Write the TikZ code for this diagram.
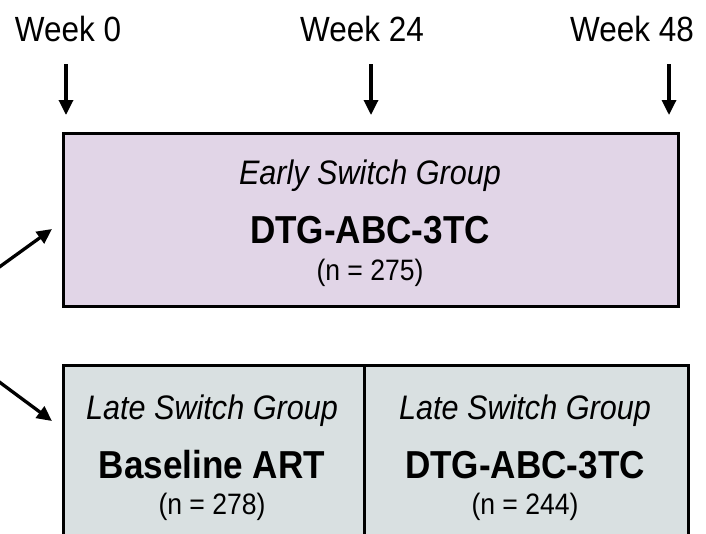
\documentclass[tikz,border=0pt]{standalone}
\usepackage{fontspec}
\setmainfont{Liberation Sans}[FakeStretch=0.9]
\usetikzlibrary{arrows.meta}
\definecolor{earlyfill}{HTML}{E1D5E7}
\definecolor{latefill}{HTML}{D9E0E1}
\begin{document}
\begin{tikzpicture}[x=1pt,y=-1pt,
  weeklbl/.style={font=\fontsize{35}{42}\selectfont, anchor=base, inner sep=0pt},
  grplbl/.style={font=\fontsize{34}{40}\selectfont\itshape, anchor=base, inner sep=0pt},
  druglbl/.style={font=\fontsize{39}{46}\selectfont\bfseries, anchor=base, inner sep=0pt},
  countlbl/.style={font=\fontsize{29.5}{35}\selectfont, anchor=base, inner sep=0pt},
  arr/.style={line width=3.3pt, -{Triangle[length=15pt,width=14pt]}},
  groupbox/.style={draw=black, line width=2.6pt, anchor=north west, inner sep=0pt}]
\clip (0,0) rectangle (706,533);
\fill[white] (0,0) rectangle (706,533);
% week labels
\node[weeklbl] (w0) at (68,41) {Week 0};
\node[weeklbl] (w24) at (362,41) {Week 24};
\node[weeklbl] (w48) at (632,41) {Week 48};
\coordinate (w0s) at (66,64);  \coordinate (w0e) at (66,115);
\coordinate (w24s) at (371,64); \coordinate (w24e) at (371,115);
\coordinate (w48s) at (669,64); \coordinate (w48e) at (669,115);
\draw[arr] (w0s) -- (w0e);
\draw[arr] (w24s) -- (w24e);
\draw[arr] (w48s) -- (w48e);
% boxes
\node[groupbox, fill=earlyfill, minimum width=615pt, minimum height=173pt] (early) at (62,132) {};
\node[groupbox, fill=latefill, minimum width=301pt, minimum height=200pt] (lateA) at (62,364) {};
\node[groupbox, fill=latefill, minimum width=324pt, minimum height=200pt] (lateB) at (363,364) {};
% texts top
\node[grplbl] (eg) at (370,184) {Early Switch Group};
\node[druglbl] (ed) at (370,243) {DTG-ABC-3TC};
\node[countlbl] (en) at (370,280) {(n = 275)};
% texts bottom
\node[grplbl] (lga) at (212,419) {Late Switch Group};
\node[druglbl] (lda) at (212,478) {Baseline ART};
\node[countlbl] (lna) at (212,514) {(n = 278)};
\node[grplbl] (lgb) at (525,419) {Late Switch Group};
\node[druglbl] (ldb) at (525,478) {DTG-ABC-3TC};
\node[countlbl] (lnb) at (525,514) {(n = 244)};
% left arrows
\coordinate (ls1) at (-2,268); \coordinate (le1) at (52,229);
\coordinate (ls2) at (-2,381); \coordinate (le2) at (52,421);
\draw[arr] (ls1) -- (le1);
\draw[arr] (ls2) -- (le2);
\end{tikzpicture}
\end{document}
